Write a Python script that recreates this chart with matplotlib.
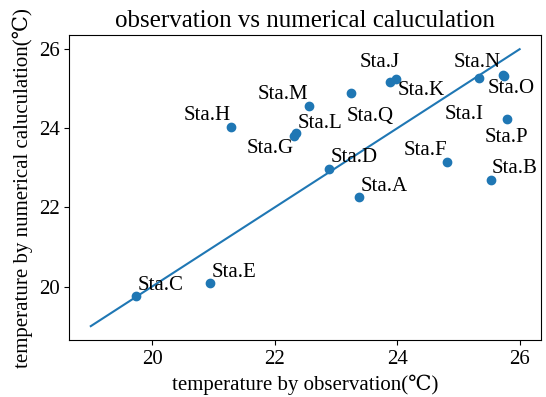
import matplotlib
matplotlib.use("Agg")
import matplotlib.pyplot as plt

plt.rcParams['font.family'] = ['Liberation Serif', 'DejaVu Serif']

stations = ["Sta.A", "Sta.B", "Sta.C", "Sta.D", "Sta.E", "Sta.F", "Sta.G", "Sta.H", "Sta.I",
            "Sta.J", "Sta.K", "Sta.L", "Sta.M", "Sta.N", "Sta.O", "Sta.P", "Sta.Q"]
obs = [23.38, 25.54, 19.74, 22.89, 20.95, 24.82, 22.32, 21.29, 25.75,
       23.88, 23.99, 22.35, 22.56, 25.34, 25.73, 25.79, 23.25]
calc = [22.26, 22.70, 19.75, 22.98, 20.10, 23.14, 23.80, 24.04, 25.32,
        25.18, 25.24, 23.87, 24.56, 25.28, 25.35, 24.23, 24.88]
# label anchor positions (data coords)
label_x = [23.41, 25.55, 19.77, 22.92, 20.98, 24.10, 21.54, 20.515, 24.78,
           23.38, 24.01, 22.37, 21.72, 24.93, 25.48, 25.43, 23.18]
label_y = [22.42, 22.87, 19.92, 23.15, 20.25, 23.32, 23.38, 24.21, 24.23,
           25.54, 24.84, 24.02, 24.73, 25.56, 24.90, 23.66, 24.19]
line_x = [19, 26]
line_y = [19, 26]

fig = plt.figure(figsize=(5.46, 3.97), dpi=100)
ax = fig.add_axes([0.127, 0.1436, 0.864, 0.7674])
ax.scatter(obs, calc, color="#1f77b4")
ax.plot(line_x, line_y, color="#1f77b4")
for s, lx, ly in zip(stations, label_x, label_y):
    ax.text(lx, ly, s, fontsize=15, ha="left", va="baseline")
ax.set_xticks([20, 22, 24, 26])
ax.set_yticks([20, 22, 24, 26])
ax.tick_params(labelsize=15)
ax.set_title("observation vs numerical caluculation", fontsize=18)
ax.set_xlabel("temperature by observation(℃)", fontsize=15)
ax.set_ylabel("temperature by numerical caluculation(℃)", fontsize=15)
fig.savefig("out.png", dpi=100)
